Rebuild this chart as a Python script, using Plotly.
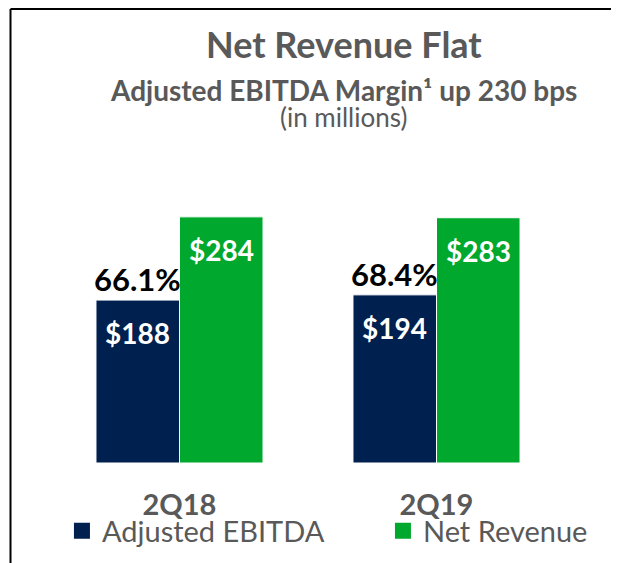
import plotly.graph_objects as go

# Data
perioder = ["2Q18", "2Q19"]
adj_ebitda = [188, 194]
net_revenue = [284, 283]
ebitda_marginal = ["66.1%", "68.4%"]

NAVY = "#00204F"
GRON = "#00A82D"
GRA = "#595959"
FONT = "Lato"

fig = go.Figure()

fig.add_trace(go.Bar(
    x=perioder, y=adj_ebitda, name="Adjusted EBITDA",
    marker=dict(color=NAVY, line=dict(color="white", width=1)),
    showlegend=False,
))
fig.add_trace(go.Bar(
    x=perioder, y=net_revenue, name="Net Revenue",
    marker=dict(color=GRON, line=dict(color="white", width=1)),
    showlegend=False,
))

# Legendposter (större fyrkanter än standard för staplar)
for namn, farg, bredd in [("Adjusted EBITDA", NAVY, 265), ("Net Revenue", GRON, 180)]:
    fig.add_trace(go.Scatter(
        x=[None], y=[None], mode="markers", name=namn, legendwidth=bredd,
        marker=dict(symbol="square", size=18, color=farg),
    ))

bargap = 0.35
halv = (1 - bargap) / 4  # förskjutning från kategorins mitt till varje stapels mitt

annotations = []
for i, per in enumerate(perioder):
    # marginal ovanför EBITDA-stapeln
    annotations.append(dict(
        x=i - halv, y=adj_ebitda[i], xref="x", yref="y",
        text=ebitda_marginal[i], showarrow=False, yanchor="bottom", yshift=0,
        font=dict(family=FONT, size=31, color="black", weight="bold"),
    ))
    annotations.append(dict(
        x=i - halv, y=adj_ebitda[i], xref="x", yref="y",
        text=f"${adj_ebitda[i]}", showarrow=False, yanchor="middle", yshift=-33,
        font=dict(family=FONT, size=28, color="white", weight="bold"),
    ))
    annotations.append(dict(
        x=i + halv, y=net_revenue[i], xref="x", yref="y",
        text=f"${net_revenue[i]}", showarrow=False, yanchor="middle", yshift=-33,
        font=dict(family=FONT, size=28, color="white", weight="bold"),
    ))

# Rubriker
annotations += [
    dict(x=0.570, y=1.6115, xref="paper", yref="paper", showarrow=False,
         xanchor="center", yanchor="middle",
         text="Net Revenue Flat",
         font=dict(family=FONT, size=36, color=GRA, weight="bold")),
    dict(x=0.570, y=1.4346, xref="paper", yref="paper", showarrow=False,
         xanchor="center", yanchor="middle",
         text="Adjusted EBITDA Margin¹ up 230 bps",
         font=dict(family=FONT, size=28, color=GRA, weight="bold")),
    dict(x=0.570, y=1.3308, xref="paper", yref="paper", showarrow=False,
         xanchor="center", yanchor="middle",
         text="(in millions)",
         font=dict(family=FONT, size=26, color=GRA)),
]

# Ram: vänster och övre kant
shapes = [
    dict(type="line", xref="paper", yref="paper", x0=-0.0788, x1=-0.0788, y0=1.746, y1=-0.40,
         line=dict(color="black", width=2)),
    dict(type="line", xref="paper", yref="paper", x0=-0.0788, x1=1.12, y0=1.746, y1=1.746,
         line=dict(color="black", width=2)),
]

# Sidan har 8 px marginal runt figuren, därav 611x555
fig.update_layout(
    width=611, height=555,
    margin=dict(l=43, r=54, t=195, b=100, autoexpand=False),
    barmode="group", bargap=bargap, bargroupgap=0,
    plot_bgcolor="white", paper_bgcolor="white",
    xaxis=dict(showgrid=False, showline=False, zeroline=False, ticks="",
               automargin=False,
               tickfont=dict(family=FONT, size=29, color=GRA, weight="bold"),
               ticklabelstandoff=22),
    yaxis=dict(range=[0, 300], visible=False, showgrid=False, automargin=False),
    legend=dict(orientation="h", x=-0.0001, xanchor="left", y=-0.163, yanchor="top",
                bgcolor="rgba(0,0,0,0)",
                font=dict(family=FONT, size=29, color=GRA), itemsizing="trace",
                indentation=11),
    annotations=annotations,
    shapes=shapes,
)

fig.write_html("out.html")
